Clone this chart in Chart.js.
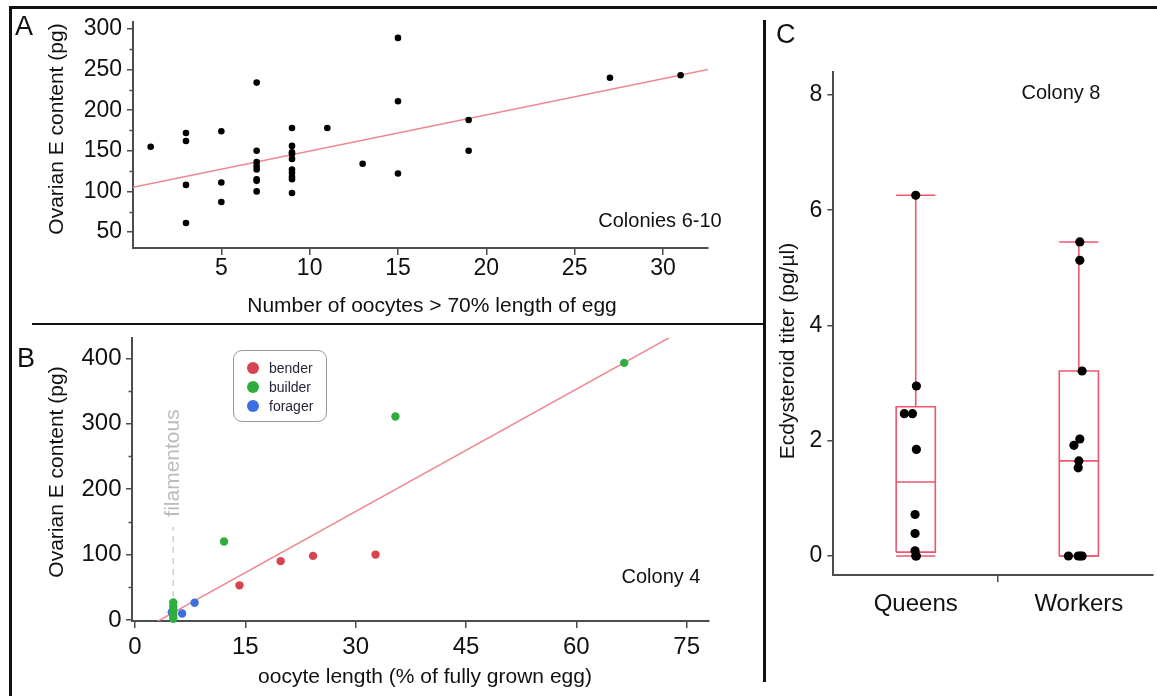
<!DOCTYPE html>
<html>
<head>
<meta charset="utf-8">
<script src="https://cdn.jsdelivr.net/npm/chart.js@4.4.1/dist/chart.umd.min.js"></script>
<style>
  html, body { margin: 0; padding: 0; background: #fff; }
  body { width: 1157px; height: 696px; position: relative; overflow: hidden;
         font-family: "Liberation Sans", Arial, Helvetica, sans-serif; color: #111; }
  canvas { position: absolute; }
  .rule { position: absolute; background: #111; }
  .txt { position: absolute; white-space: nowrap; line-height: 1; }
  .center { transform: translate(-50%, 0); }
  .vert { transform: translate(-50%, -50%) rotate(-90deg); }
  .legend { position: absolute; left: 233px; top: 350px; width: 94px; height: 72px;
            border: 1.5px solid #9a9a9a; border-radius: 9px; box-sizing: border-box; }
  .legend .item { position: absolute; left: 0; height: 18px; font-size: 14px; line-height: 18px; color: #26263a; }
  .legend .dot { position: absolute; left: 13px; top: 3px; width: 12px; height: 12px; border-radius: 50%; }
  .legend .lab { position: absolute; left: 35px; top: 0; }
</style>
</head>
<body>
<canvas id="chartA" width="760" height="322" style="left:0;top:0"></canvas>
<canvas id="chartB" width="760" height="370" style="left:0;top:326px"></canvas>
<canvas id="chartC" width="391" height="696" style="left:766px;top:0"></canvas>

<!-- figure frame and panel dividers -->
<div class="rule" style="left:9px;top:6px;width:1148px;height:3px"></div>
<div class="rule" style="left:9px;top:6px;width:3px;height:690px"></div>
<div class="rule" style="left:32px;top:322.5px;width:733px;height:2.5px"></div>
<div class="rule" style="left:763px;top:20px;width:2.5px;height:662px"></div>

<!-- panel letters -->
<div class="txt" style="left:15px;top:13px;font-size:27px">A</div>
<div class="txt" style="left:17px;top:345px;font-size:27px">B</div>
<div class="txt" style="left:776px;top:21px;font-size:27px">C</div>

<!-- axis titles -->
<div class="txt vert" style="left:55px;top:129px;font-size:21px">Ovarian E content (pg)</div>
<div class="txt center" style="left:432px;top:294px;font-size:21px">Number of oocytes &gt; 70% length of egg</div>
<div class="txt vert" style="left:55px;top:472px;font-size:21px">Ovarian E content (pg)</div>
<div class="txt center" style="left:425px;top:665px;font-size:21px">oocyte length (% of fully grown egg)</div>
<div class="txt vert" style="left:786px;top:351px;font-size:21px">Ecdysteroid titer (pg/µl)</div>

<!-- panel captions -->
<div class="txt center" style="left:660px;top:210px;font-size:20px">Colonies 6-10</div>
<div class="txt center" style="left:661px;top:566px;font-size:20px">Colony 4</div>
<div class="txt center" style="left:1061px;top:82px;font-size:20px">Colony 8</div>

<div class="legend" id="legendB"></div>

<script>
// ---------- Panel A: ovarian ecdysteroid vs. number of mature oocytes ----------
const oocyteCount = [1, 3, 3, 3, 3, 5, 5, 5,
  7, 7, 7, 7, 7, 7, 7, 7,
  9, 9, 9, 9, 9, 9, 9, 9, 9, 9,
  11, 13, 15, 15, 15, 19, 19, 27, 31];
const ovarianE_A = [155, 172, 162, 108, 61, 174, 111, 87,
  234, 150, 136, 131, 127, 115, 113, 100,
  178, 156, 148, 146, 140, 127, 123, 118, 115, 98,
  178, 134, 289, 211, 122, 188, 150, 240, 243];
const fitA = { intercept: 105, slope: 4.46 };
const xTicksA = [5, 10, 15, 20, 25, 30];
const yTicksA = [50, 100, 150, 200, 250, 300];

// ---------- Panel B: ovarian ecdysteroid vs. oocyte length, by task group ----------
const roles = ['bender', 'builder', 'forager'];
const roleColors = ['#d8434f', '#2fae3f', '#3f6ee0'];
const benderLength = [14.2, 19.8, 24.2, 32.7];
const benderE = [53, 90, 98, 100];
const builderLength = [12.1, 35.4, 66.5, 5.2, 5.2, 5.2, 5.2, 5.2, 5.2];
const builderE = [120, 311, 393, 27, 21, 16, 11, 6, 2];
const foragerLength = [5.0, 6.4, 8.1];
const foragerE = [12, 10, 26.5];
const fitB = { intercept: -21, slope: 6.23 };
const filamentousCutoff = 5.2;
const filamentousSpan = [35, 142];
const xTicksB = [0, 15, 30, 45, 60, 75];
const yTicksB = [0, 100, 200, 300, 400];

// ---------- Panel C: haemolymph ecdysteroid titer, colony 8 ----------
const groups = ['Queens', 'Workers'];
const queensTiter = [6.26, 2.95, 2.47, 2.47, 1.85, 0.72, 0.39, 0.09, 0.0, 0.0];
const queensJitter = [0, 0.004, -0.07, -0.02, 0.004, -0.004, -0.004, -0.004, 0.004, 0];
const workersTiter = [5.45, 5.13, 3.21, 2.03, 1.92, 1.65, 1.53, 0, 0, 0, 0];
const workersJitter = [0.006, 0.006, 0.02, 0.006, -0.03, 0, -0.004, -0.064, -0.004, 0.02, 0.01];
const yTicksC = [0, 2, 4, 6, 8];

// ---------- shared styling ----------
const FONT = '"Liberation Sans", Arial, Helvetica, sans-serif';
const AXIS = '#4d4d4d';
const FIT_COLOR = '#ee8790';
const BOX_COLOR = '#ef566d';

// lock axis thickness so every plot area lands at a fixed spot on its canvas
function pinAxis(size) {
  return function (scale) {
    if (scale.isHorizontal()) scale.height = size; else scale.width = size;
    scale.paddingTop = scale.paddingBottom = scale.paddingLeft = scale.paddingRight = 0;
  };
}
function fixedTicks(values) {
  return function (scale) { scale.ticks = values.map(v => ({ value: v })); };
}
function axisStyle(extra) {
  return Object.assign({
    type: 'linear',
    grid: { drawOnChartArea: false, drawTicks: true, tickLength: 6, color: AXIS, lineWidth: 1.5 },
    border: { display: true, color: AXIS, width: 2 }
  }, extra);
}
function tickFont(size, padding) {
  return { font: { family: FONT, size: size }, color: '#111', padding: padding, autoSkip: false, maxRotation: 0, minRotation: 0 };
}
function midpoints(ticks) {
  const out = [];
  for (let i = 0; i < ticks.length - 1; i++) out.push((ticks[i] + ticks[i + 1]) / 2);
  return out;
}

// short unlabeled ticks halfway between the labeled y ticks
const minorTickPlugin = {
  id: 'minorTicks',
  afterDraw(chart, args, opts) {
    if (!opts || !opts.values) return;
    const scale = chart.scales.y;
    const ctx = chart.ctx;
    ctx.save();
    ctx.strokeStyle = AXIS;
    ctx.lineWidth = 1.5;
    ctx.beginPath();
    opts.values.forEach(v => {
      if (v < scale.min || v > scale.max) return;
      const y = Math.round(scale.getPixelForValue(v)) + 0.5;
      ctx.moveTo(scale.right - opts.length, y);
      ctx.lineTo(scale.right, y);
    });
    ctx.stroke();
    ctx.restore();
  }
};

// rotated caption beside the filamentous-stage marker
const cutoffLabelPlugin = {
  id: 'cutoffLabel',
  afterDatasetsDraw(chart, args, opts) {
    if (!opts || !opts.text) return;
    const ctx = chart.ctx;
    const x = chart.scales.x.getPixelForValue(opts.at) + opts.dx;
    const y = chart.scales.y.getPixelForValue(opts.labelAt);
    ctx.save();
    ctx.translate(x, y);
    ctx.rotate(-Math.PI / 2);
    ctx.font = '21px ' + FONT;
    ctx.fillStyle = '#bcbcbc';
    ctx.textAlign = 'center';
    ctx.textBaseline = 'alphabetic';
    ctx.fillText(opts.text, 0, 0);
    ctx.restore();
  }
};

const baseOptions = {
  responsive: false,
  animation: false,
  events: [],
  plugins: { legend: { display: false }, tooltip: { enabled: false } }
};

// ---------- Panel A ----------
const xRangeA = { min: 0, max: 32.55 };
new Chart(document.getElementById('chartA'), {
  type: 'scatter',
  data: {
    datasets: [
      { data: oocyteCount.map((x, i) => ({ x: x, y: ovarianE_A[i] })),
        backgroundColor: '#000', borderColor: '#000', borderWidth: 0, pointRadius: 3.3, order: 0 },
      { data: [xRangeA.min, xRangeA.max].map(x => ({ x: x, y: fitA.intercept + fitA.slope * x })),
        showLine: true, borderColor: FIT_COLOR, borderWidth: 1.5, pointRadius: 0, order: 1 }
    ]
  },
  options: Object.assign({}, baseOptions, {
    layout: { padding: { left: 0, top: 22, right: 52, bottom: 0 } },
    plugins: Object.assign({}, baseOptions.plugins, { minorTicks: { values: midpoints(yTicksA), length: 3.5 } }),
    scales: {
      x: axisStyle({ min: xRangeA.min, max: xRangeA.max, afterBuildTicks: fixedTicks(xTicksA),
                     afterFit: pinAxis(74), ticks: tickFont(23, 0),
                     grid: { drawOnChartArea: false, tickLength: 7, color: AXIS, lineWidth: 1.5 } }),
      y: axisStyle({ min: 30.3, max: 308.6, afterBuildTicks: fixedTicks(yTicksA),
                     afterFit: pinAxis(133), ticks: tickFont(23, 5) })
    }
  }),
  plugins: [minorTickPlugin]
});

// ---------- Panel B ----------
const xRangeB = { min: -0.41, max: 78.03 };
const roleData = [
  benderLength.map((x, i) => ({ x: x, y: benderE[i] })),
  builderLength.map((x, i) => ({ x: x, y: builderE[i] })),
  foragerLength.map((x, i) => ({ x: x, y: foragerE[i] }))
];
const roleSets = roles.map((r, i) => ({
  label: r, data: roleData[i], backgroundColor: roleColors[i], borderColor: roleColors[i],
  borderWidth: 0, pointRadius: 4.2, clip: false, order: 0
}));
new Chart(document.getElementById('chartB'), {
  type: 'scatter',
  data: {
    datasets: roleSets.concat([
      { data: [xRangeB.min, xRangeB.max].map(x => ({ x: x, y: fitB.intercept + fitB.slope * x })),
        showLine: true, borderColor: FIT_COLOR, borderWidth: 1.5, pointRadius: 0, order: 1 },
      { data: filamentousSpan.map(y => ({ x: filamentousCutoff, y: y })),
        showLine: true, borderColor: '#cfcfcf', borderWidth: 1.5, borderDash: [6, 5], pointRadius: 0, order: 2 }
    ])
  },
  options: Object.assign({}, baseOptions, {
    layout: { padding: { left: 0, top: 12, right: 51, bottom: 0 } },
    plugins: Object.assign({}, baseOptions.plugins, {
      minorTicks: { values: midpoints(yTicksB), length: 3.5 },
      cutoffLabel: { text: 'filamentous', at: filamentousCutoff, dx: 6, labelAt: 240 }
    }),
    scales: {
      x: axisStyle({ min: xRangeB.min, max: xRangeB.max, afterBuildTicks: fixedTicks(xTicksB),
                     afterFit: pinAxis(75), ticks: tickFont(24, 5),
                     grid: { drawOnChartArea: false, tickLength: 7, color: AXIS, lineWidth: 1.5 } }),
      y: axisStyle({ min: -1.5, max: 431, afterBuildTicks: fixedTicks(yTicksB),
                     afterFit: pinAxis(132), ticks: tickFont(24, 4.5) })
    }
  }),
  plugins: [minorTickPlugin, cutoffLabelPlugin]
});

// legend for panel B, built from the role list
const legendB = document.getElementById('legendB');
roles.forEach((r, i) => {
  const item = document.createElement('div');
  item.className = 'item';
  item.style.top = (8 + i * 19) + 'px';
  item.innerHTML = '<span class="dot" style="background:' + roleColors[i] + '"></span><span class="lab">' + r + '</span>';
  legendB.appendChild(item);
});

// ---------- Panel C: box plots (SPSS-style quartiles) with jittered points ----------
function quantile(sorted, p) {
  const n = sorted.length;
  const h = p * (n + 1);
  if (h <= 1) return sorted[0];
  if (h >= n) return sorted[n - 1];
  const lo = Math.floor(h);
  return sorted[lo - 1] + (h - lo) * (sorted[lo] - sorted[lo - 1]);
}
function boxStats(values) {
  const s = values.slice().sort((a, b) => a - b);
  return { min: s[0], q1: quantile(s, 0.25), med: quantile(s, 0.5), q3: quantile(s, 0.75), max: s[s.length - 1] };
}
const BOX_HALF = 0.12;
function boxSegments(center, st) {
  const L = center - BOX_HALF, R = center + BOX_HALF;
  return [
    [{ x: L, y: st.q1 }, { x: R, y: st.q1 }, { x: R, y: st.q3 }, { x: L, y: st.q3 }, { x: L, y: st.q1 }],
    [{ x: L, y: st.med }, { x: R, y: st.med }],
    [{ x: center, y: st.q3 }, { x: center, y: st.max }],
    [{ x: center, y: st.min }, { x: center, y: st.q1 }],
    [{ x: L, y: st.max }, { x: R, y: st.max }],
    [{ x: L, y: st.min }, { x: R, y: st.min }]
  ];
}
const groupValues = [queensTiter, workersTiter];
const groupJitter = [queensJitter, workersJitter];
const datasetsC = [];
groupValues.forEach((vals, g) => {
  const center = g + 1;
  datasetsC.push({
    data: vals.map((v, i) => ({ x: center + groupJitter[g][i], y: v })),
    backgroundColor: '#000', borderColor: '#000', borderWidth: 0, pointRadius: 4.6, clip: false, order: 0
  });
  boxSegments(center, boxStats(vals)).forEach(seg => datasetsC.push({
    data: seg, showLine: true, borderColor: BOX_COLOR, borderWidth: 1.6, pointRadius: 0, clip: false, order: 1
  }));
});
new Chart(document.getElementById('chartC'), {
  type: 'scatter',
  data: { datasets: datasetsC },
  options: Object.assign({}, baseOptions, {
    layout: { padding: { left: 0, top: 71.7, right: 0, bottom: 0 } },
    scales: {
      x: axisStyle({ min: 0.4946, max: 2.451,
                     afterBuildTicks: s => { s.ticks = [1, 1.5, 2].map(v => ({ value: v })); },
                     afterFit: pinAxis(121),
                     ticks: Object.assign(tickFont(24, 7.6), {
                       callback: v => (v === 1 ? groups[0] : v === 2 ? groups[1] : '')
                     }),
                     grid: { drawOnChartArea: false, tickLength: 7, lineWidth: 1.5,
                             color: AXIS,
                             tickColor: ctx => (ctx.tick && ctx.tick.value === 1.5 ? AXIS : 'rgba(0,0,0,0)') } }),
      y: axisStyle({ min: -0.33, max: 8.404, afterBuildTicks: fixedTicks(yTicksC),
                     afterFit: pinAxis(67.3), ticks: tickFont(23, 5) })
    }
  })
});
</script>
</body>
</html>
